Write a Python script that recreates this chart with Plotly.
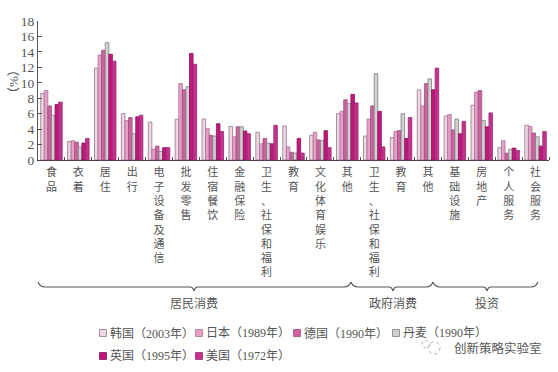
import plotly.graph_objects as go

categories = ["食品", "衣着", "居住", "出行", "电子设备及通信", "批发零售", "住宿餐饮", "金融保险",
              "卫生、社保和福利", "教育", "文化体育娱乐", "其他", "卫生、社保和福利", "教育", "其他",
              "基础设施", "房地产", "个人服务", "社会服务"]
korea = [8.6, 2.4, 11.9, 6.0, 4.9, 5.3, 5.3, 4.35, 3.6, 4.4, 3.2, 6.0, 3.1, 2.9, 9.1, 5.7, 7.1, 1.6, 4.5]
japan = [9.0, 2.5, 13.6, 5.1, 1.4, 9.9, 4.1, 3.0, 2.1, 1.7, 3.6, 6.3, 5.3, 3.7, 7.0, 5.9, 8.8, 2.5, 4.35]
germany = [7.0, 2.3, 14.2, 5.5, 1.8, 9.1, 3.2, 4.3, 2.8, 1.0, 2.6, 7.8, 7.0, 3.8, 9.9, 3.9, 9.0, 0.9, 3.5]
denmark = [5.8, 1.7, 15.2, 3.4, 1.1, 9.5, 3.1, 4.3, 2.2, 0.9, 2.5, 7.3, 11.2, 6.0, 10.5, 5.3, 5.1, 1.4, 3.0]
uk = [7.2, 2.2, 13.7, 5.6, 1.6, 13.8, 4.7, 3.75, 2.1, 2.8, 3.8, 8.5, 6.3, 2.8, 9.1, 3.4, 4.3, 1.55, 1.8]
usa = [7.5, 2.8, 12.8, 5.8, 1.6, 12.4, 3.7, 3.4, 4.5, 0.9, 1.6, 7.4, 1.7, 5.5, 11.9, 5.0, 6.1, 1.25, 3.7]
series_names = ["韩国（2003年）", "日本（1989年）", "德国（1990年）", "丹麦（1990年）", "英国（1995年）", "美国（1972年）"]
series_values = [korea, japan, germany, denmark, uk, usa]
fills = ["#EFD6E3", "#E6A0C6", "#D0619F", "#D2D0D0", "#C2177A", "#C72F8B"]
edges = ["#8F7A88", "#A8749A", "#96507F", "#7F7F7F", "#8A1560", "#96307A"]
y_ticks = list(range(0, 20, 2))
groups = [("居民消费", 38, 351, 194), ("政府消费", 351, 433, 393), ("投资", 433, 538, 487)]

W, H = 558, 372
L, R, T, B = 38, 549, 21, 160
INK = "#555555"
SERIF = "Liberation Serif, Noto Sans CJK SC"
CJK = "Noto Sans CJK SC"


def px(x):
    return (x - L) / (R - L)


def py(y):
    return (B - y) / (B - T)


fig = go.Figure()
xs = list(range(len(categories)))
for name, vals, fc, ec in zip(series_names, series_values, fills, edges):
    fig.add_bar(x=xs, y=vals, name=name, marker=dict(color=fc, line=dict(color=ec, width=0.8)), showlegend=False)

shapes, annotations = [], []

# braces under the axis
for label, x0, x1, tip in groups:
    top, mid, bot = 282, 287, 291
    path = (f"M {px(x0)} {py(top)} Q {px(x0+2)} {py(mid)} {px(x0+7)} {py(mid)} "
            f"L {px(tip-4)} {py(mid)} Q {px(tip-1)} {py(mid)} {px(tip)} {py(bot)} "
            f"Q {px(tip+1)} {py(mid)} {px(tip+4)} {py(mid)} "
            f"L {px(x1-7)} {py(mid)} Q {px(x1-2)} {py(mid)} {px(x1)} {py(top)}")
    shapes.append(dict(type="path", xref="paper", yref="paper", path=path, line=dict(color="#555", width=1.1)))
    annotations.append(dict(text=label, xref="paper", yref="paper", x=px(tip), y=py(302), xanchor="center",
                            yanchor="middle", showarrow=False, font=dict(family=CJK, size=12, color=INK)))

# legend rows
legend_x = [103, 199, 297, 396, 103, 199]
legend_y = [333, 333, 333, 333, 356, 356]
for name, fc, ec, lx, ly in zip(series_names, fills, edges, legend_x, legend_y):
    shapes.append(dict(type="rect", xref="paper", yref="paper", x0=px(lx - 3.5), x1=px(lx + 3.5),
                       y0=py(ly + 3.5), y1=py(ly - 3.5), fillcolor=fc, line=dict(color=ec, width=0.8)))
    annotations.append(dict(text=name, xref="paper", yref="paper", x=px(lx + 5), y=py(ly), xanchor="left",
                            yanchor="middle", showarrow=False, font=dict(family=SERIF, size=12, color=INK)))

# y-axis unit
annotations.append(dict(text="（%）", xref="paper", yref="paper", x=px(13), y=py(82), xanchor="center",
                        yanchor="middle", textangle=-90, showarrow=False,
                        font=dict(family=SERIF, size=13, color=INK)))

# watermark
for cx, cy, r in [(434, 348, 6), (426, 344, 4)]:
    shapes.append(dict(type="circle", xref="paper", yref="paper", x0=px(cx - r), x1=px(cx + r),
                       y0=py(cy + r), y1=py(cy - r), line=dict(color="#999", width=0.8, dash="dot")))
annotations.append(dict(text="创新策略实验室", xref="paper", yref="paper", x=px(452), y=py(347), xanchor="left",
                        yanchor="middle", showarrow=False, font=dict(family=CJK, size=12.5, color="#555")))

fig.update_layout(
    width=W, height=H, autosize=False, barmode="group", bargap=0.2, bargroupgap=0,
    margin=dict(l=L, r=W - R, t=T, b=H - B), paper_bgcolor="white", plot_bgcolor="white",
    shapes=shapes, annotations=annotations, showlegend=False,
    xaxis=dict(range=[-0.5, 18.5], tickmode="array", tickvals=xs,
               ticktext=["<br>".join(c) for c in categories], tickangle=0, ticks="",
               tickfont=dict(family=CJK, size=11, color=INK), showgrid=False, zeroline=False,
               showline=True, linecolor="#5a3a50", linewidth=1.2, ticklabelstandoff=2,
               minor=dict(tickmode="array", tickvals=[i + 0.5 for i in xs], ticks="inside", ticklen=3,
                          tickcolor="#555", tickwidth=1, showgrid=False)),
    yaxis=dict(range=[0, 18], tickmode="array", tickvals=y_ticks, ticks="inside", ticklen=4, tickwidth=1,
               tickcolor="#555", tickfont=dict(family="Liberation Serif", size=13.5, color=INK), showgrid=False,
               zeroline=False, showline=True, linecolor="#555", linewidth=1),
)
fig.write_html("out.html", post_script="document.body.style.margin='0';", config={"displayModeBar": False})
